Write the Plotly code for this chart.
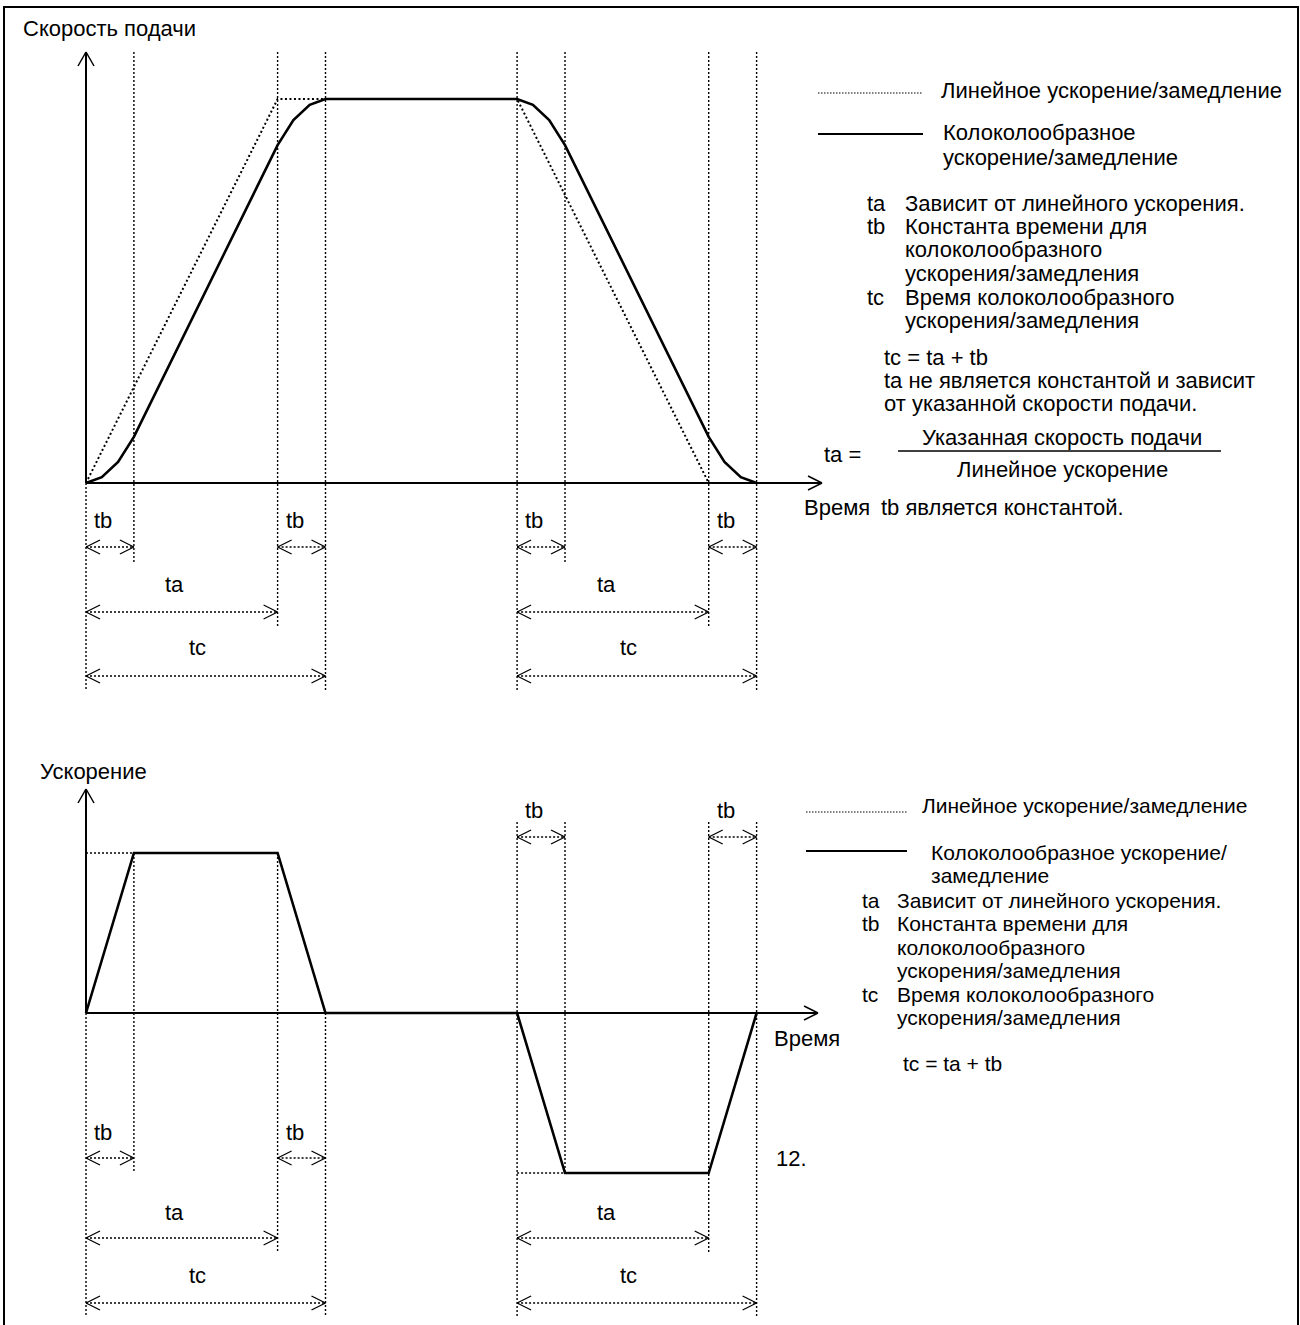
import plotly.graph_objects as go

W, H = 1300, 1325

# ---------------- data ----------------
speed_title = "Скорость подачи"
acc_title = "Ускорение"
time_label = "Время"

# linear acc/dec (feedrate)
lin_t = [0, 4, 9, 13]
lin_v = [0, 100, 100, 0]
# bell-shaped acc/dec (feedrate)
bell_t = [0, 0.33, 0.67, 1, 4, 4.33, 4.67, 5, 9, 9.33, 9.67, 10, 13, 13.33, 13.67, 14]
bell_v = [0, 1.5, 5.5, 12, 88, 94.5, 98.5, 100, 100, 98.5, 94.5, 88, 12, 5.5, 1.5, 0]
# acceleration
acc_t = [0, 1, 4, 5, 9, 10, 13, 14]
acc_v = [0, 100, 100, 0, 0, -100, -100, 0]

# dimension intervals (label, start, end)
top_dims = [("tb", 0, 1), ("tb", 4, 5), ("ta", 0, 4), ("tc", 0, 5),
            ("tb", 9, 10), ("tb", 13, 14), ("ta", 9, 13), ("tc", 9, 14)]
bot_dims = [("tb", 0, 1), ("tb", 4, 5), ("ta", 0, 4), ("tc", 0, 5),
            ("tb", 9, 10), ("tb", 13, 14), ("ta", 9, 13), ("tc", 9, 14)]

legend_lin = "Линейное ускорение/замедление"
legend_bell_top = ["Колоколообразное", "ускорение/замедление"]
legend_bell_bot = ["Колоколообразное ускорение/", "замедление"]
defs = [("ta", ["Зависит от линейного ускорения."]),
        ("tb", ["Константа времени для", "колоколообразного", "ускорения/замедления"]),
        ("tc", ["Время колоколообразного", "ускорения/замедления"])]
notes_top = ["tc = ta + tb", "ta не является константой и зависит",
             "от указанной скорости подачи."]
frac_num = "Указанная скорость подачи"
frac_den = "Линейное ускорение"
frac_lhs = "ta ="
tb_const = "tb является константой."
note_bot = "tc = ta + tb"
page_no = "12."

# ---------------- layout scales (pixels) ----------------
X0, PXT = 86, 47.9            # x pixel of t=0, pixels per time unit
Y0T, PXV_T = 483, 3.84        # top panel zero line, px per unit
Y0B, PXV_B = 1013, 1.6        # bottom panel zero line, px per unit
FONT = "Liberation Sans, Arial, sans-serif"
FS = 22
FSB = 21


def tx(px):
    return (px - X0) / PXT


def pp(py):
    return 1 - py / H


fig = go.Figure()
fig.add_trace(go.Scatter(x=lin_t, y=lin_v, mode="lines", yaxis="y",
                         line=dict(color="black", width=2, dash="2px,2.5px")))
fig.add_trace(go.Scatter(x=bell_t, y=bell_v, mode="lines", yaxis="y",
                         line=dict(color="black", width=2.6)))
fig.add_trace(go.Scatter(x=acc_t, y=acc_v, mode="lines", yaxis="y2",
                         line=dict(color="black", width=2.6)))

shapes = []
ann = []
DOT = dict(color="black", width=1.4, dash="2px,2px")


def seg(x0, y0, x1, y1, line, xref="x", yref="paper"):
    shapes.append(dict(type="line", xref=xref, yref=yref, x0=x0, y0=y0,
                       x1=x1, y1=y1, line=line, layer="below"))


def text(x, y, s, xanchor="left", size=FS, xref="paper"):
    ann.append(dict(x=x, y=y, xref=xref, yref="paper", text=s, showarrow=False,
                    xanchor=xanchor, yanchor="middle",
                    font=dict(family=FONT, size=size, color="black")))


def chevron(t, py, direction, kind="h", lw=1.3):
    # open arrowhead; direction +1 points right/up, -1 left
    if kind == "h":
        dx = -14 / PXT * direction
        seg(t, pp(py), t + dx, pp(py - 7), dict(color="black", width=lw))
        seg(t, pp(py), t + dx, pp(py + 7), dict(color="black", width=lw))
    else:
        seg(t, pp(py), tx(X0 - 8), pp(py + 14), dict(color="black", width=lw))
        seg(t, pp(py), tx(X0 + 8), pp(py + 14), dict(color="black", width=lw))


def dim(t0, t1, py):
    seg(t0, pp(py), t1, pp(py), DOT)
    chevron(t0, py, -1)
    chevron(t1, py, 1)


AX = dict(color="black", width=2)
# ---- top panel axes ----
seg(0, pp(Y0T), 0, pp(52), AX)
chevron(0, 52, 1, kind="v", lw=1.5)
seg(0, pp(Y0T), tx(822), pp(Y0T), AX)
chevron(tx(822), Y0T, 1, lw=1.5)
# ---- bottom panel axes ----
seg(0, pp(Y0B), 0, pp(789), AX)
chevron(0, 789, 1, kind="v", lw=1.5)
seg(0, pp(Y0B), tx(818), pp(Y0B), AX)
chevron(tx(818), Y0B, 1, lw=1.5)

# ---- top panel guide lines (t, top px, bottom px) ----
top_guides = [(0, Y0T, 690), (1, 52, 562), (4, 52, 628), (5, 52, 690),
              (9, 52, 690), (10, 52, 562), (13, 52, 628), (14, 52, 690)]
for t, a, b in top_guides:
    seg(t, pp(a), t, pp(b), DOT)
bot_guides = [(0, Y0B, 1317), (1, 853, 1173), (4, 853, 1253), (5, Y0B, 1317),
              (9, 822, 1317), (10, 822, 1174), (13, 822, 1253), (14, 822, 1317)]
for t, a, b in bot_guides:
    seg(t, pp(a), t, pp(b), DOT)
# horizontal dotted references in the acceleration panel
shapes.append(dict(type="line", xref="x", yref="y2", x0=0, x1=acc_t[1],
                   y0=acc_v[1], y1=acc_v[1], line=DOT, layer="below"))
shapes.append(dict(type="line", xref="x", yref="y2", x0=acc_t[4], x1=acc_t[5],
                   y0=acc_v[5], y1=acc_v[5], line=DOT, layer="below"))

# ---- dimension arrows ----
label_px = {("tb", 0): 103, ("tb", 4): 295, ("ta", 0): 174, ("tc", 0): 197,
            ("tb", 9): 534, ("tb", 13): 726, ("ta", 9): 606, ("tc", 9): 628}
top_rows = {"tb": (547, 520), "ta": (612, 584), "tc": (676, 647)}
for lab, a, b in top_dims:
    ya, yl = top_rows[lab]
    dim(a, b, ya)
    text(tx(label_px[(lab, a)]), pp(yl), lab, xanchor="center", xref="x")
bot_rows = {"tb": (1158, 1132), "ta": (1238, 1212), "tc": (1303, 1275)}
for lab, a, b in bot_dims:
    ya, yl = bot_rows[lab]
    if lab == "tb" and a >= 9:
        ya, yl = 837, 810
    dim(a, b, ya)
    text(tx(label_px[(lab, a)]), pp(yl), lab, xanchor="center", xref="x")

# ---- titles / axis labels ----
text(21 / W, pp(28), speed_title)
text(38 / W, pp(771), acc_title)
text(802 / W, pp(507), time_label)
text(772 / W, pp(1038), time_label)
text(774 / W, pp(1158), page_no)

# ---- top explanation block ----
seg(tx(818), pp(93), tx(923), pp(93), dict(color="black", width=1.2, dash="1.5px,1.5px"))
text(939 / W, pp(91), legend_lin)
seg(tx(818), pp(134), tx(923), pp(134), dict(color="black", width=2))
text(941 / W, pp(132), legend_bell_top[0])
text(941 / W, pp(157), legend_bell_top[1])
y = 203
for key, lines in defs:
    text(865 / W, pp(y), key)
    for ln in lines:
        text(903 / W, pp(y), ln)
        y += 23.5
yy = 357
for ln in notes_top:
    text(882 / W, pp(yy), ln)
    yy += 23.3
text(1062 / W, pp(437), frac_num, xanchor="center")
seg(tx(898), pp(451), tx(1221), pp(451), dict(color="black", width=1.3))
text(1062 / W, pp(469), frac_den, xanchor="center")
text(822 / W, pp(454), frac_lhs)
text(879 / W, pp(507), tb_const)

# ---- bottom explanation block ----
seg(tx(806), pp(812), tx(907), pp(812), dict(color="black", width=1.2, dash="1.5px,1.5px"))
text(920 / W, pp(806), legend_lin, size=FSB)
seg(tx(806), pp(851), tx(907), pp(851), dict(color="black", width=2))
text(929 / W, pp(852), legend_bell_bot[0], size=FSB)
text(929 / W, pp(875), legend_bell_bot[1], size=FSB)
y = 900
for key, lines in defs:
    text(860 / W, pp(y), key, size=FSB)
    for ln in lines:
        text(895 / W, pp(y), ln, size=FSB)
        y += 23.5
text(901 / W, pp(1063), note_bot, size=FSB)

# ---- frame ----
shapes.append(dict(type="rect", xref="paper", yref="paper", x0=4 / W, x1=1298 / W,
                   y0=pp(1340), y1=pp(7), line=dict(color="black", width=2)))

fig.update_layout(
    width=W, height=H, margin=dict(l=0, r=0, t=0, b=0),
    paper_bgcolor="white", plot_bgcolor="white", showlegend=False,
    xaxis=dict(range=[tx(0), tx(W)], visible=False, domain=[0, 1]),
    yaxis=dict(range=[(Y0T - H) / PXV_T, Y0T / PXV_T], visible=False, domain=[0, 1]),
    yaxis2=dict(range=[(Y0B - H) / PXV_B, Y0B / PXV_B], visible=False,
                overlaying="y", domain=[0, 1]),
    shapes=shapes, annotations=ann,
)
fig.write_html("out.html", config={"displayModeBar": False},
               post_script="document.body.style.margin='0px';"
                           "document.body.style.overflow='hidden';")
